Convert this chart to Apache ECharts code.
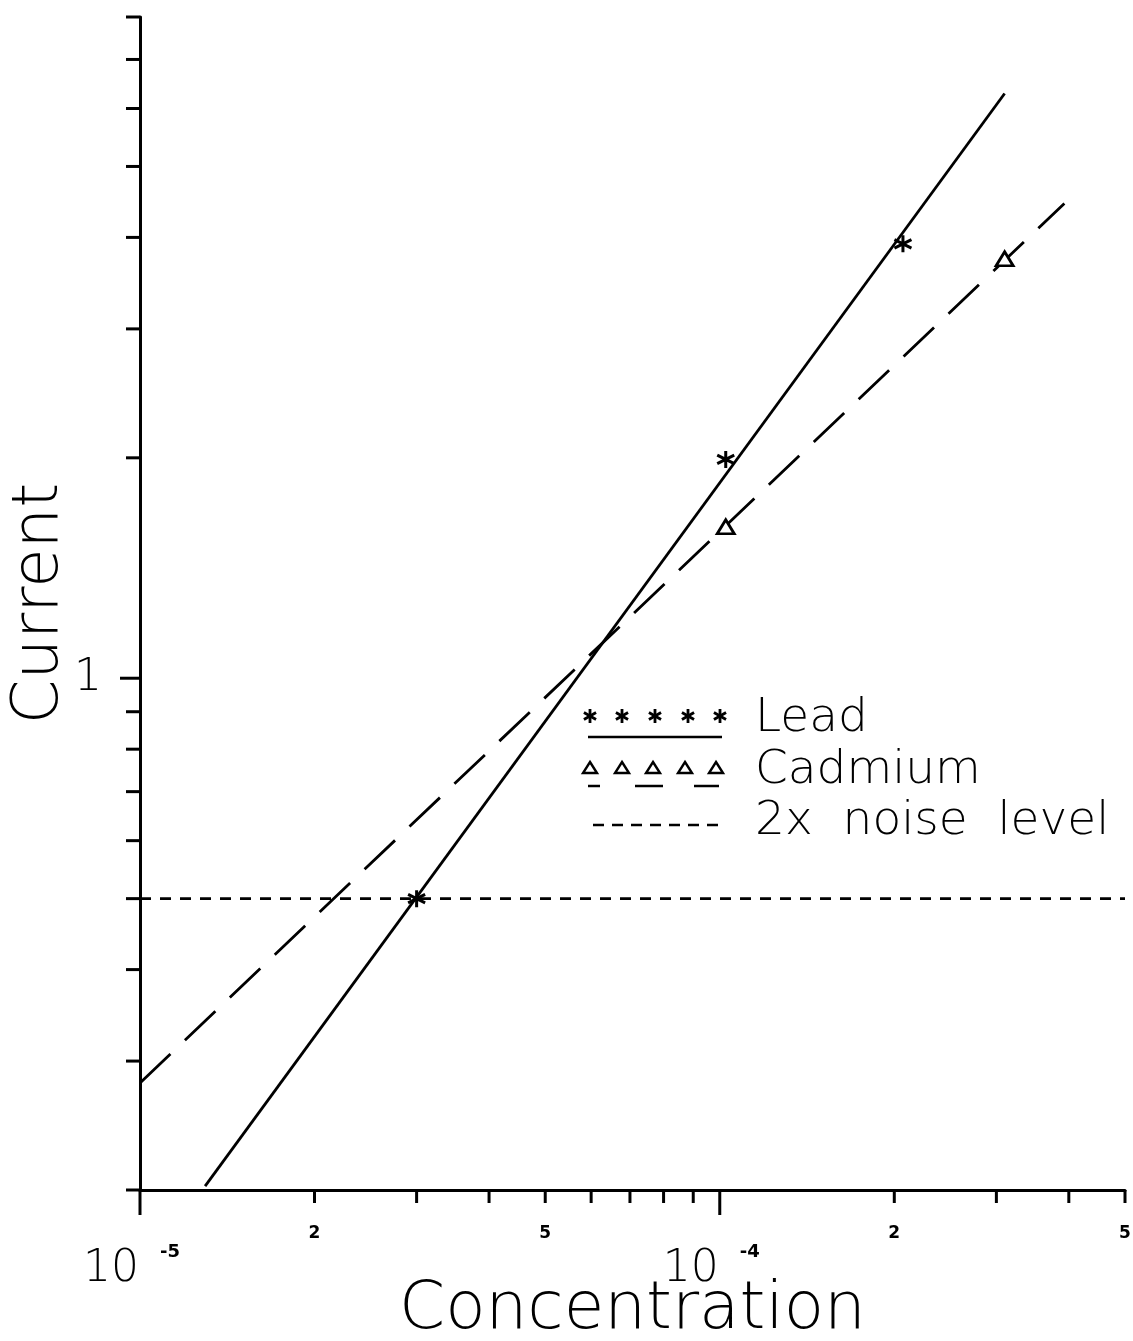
<!DOCTYPE html>
<html>
<head>
<meta charset="utf-8">
<script src="https://cdn.jsdelivr.net/npm/echarts@6/dist/echarts.min.js"></script>
<style>
html,body{margin:0;padding:0;background:#fff;}
#chart{width:1133px;height:1341px;}
</style>
</head>
<body>
<div id="chart"></div>
<script>
// ---- data ----
const X_MIN = 1e-5, X_MAX = 5e-4;
const Y_MIN = 0.2, Y_MAX = 8;
const leadPoints = [[3.0e-5, 0.50], [1.024e-4, 1.99], [2.07e-4, 3.92]];
const cadmiumPoints = [[1.024e-4, 1.61], [3.1e-4, 3.74]];
const leadFit = [[1.295e-5, 0.2025], [3.1e-4, 6.29]];
const cadmiumFit = [[1.0e-5, 0.28], [3.93e-4, 4.45]];
const noiseLevel = [[1e-5, 0.5], [5e-4, 0.5]];
const xTicks = [1e-5, 2e-5, 3e-5, 4e-5, 5e-5, 6e-5, 7e-5, 8e-5, 9e-5, 1e-4, 2e-4, 3e-4, 4e-4, 5e-4];
const xMinorLabels = [[2e-5, '2'], [5e-5, '5'], [2e-4, '2'], [5e-4, '5']];
const xDecadeLabels = [[1e-5, '-5'], [1e-4, '-4']];
const yTicks = [0.2, 0.3, 0.4, 0.5, 0.6, 0.7, 0.8, 0.9, 1, 2, 3, 4, 5, 6, 7, 8];
const yLabels = [[1, '1']];

const FONT = "'DejaVu Sans', sans-serif";
const STAR = 'path://M10,0L10,20M1.34,5L18.66,15M1.34,15L18.66,5';
const isDecade = v => Math.abs(Math.log10(v) - Math.round(Math.log10(v))) < 1e-9;

function legendStar(cx, cy, r) {
  const a = r * 0.866, b = r * 0.5;
  return [
    [cx, cy - r, cx, cy + r],
    [cx - a, cy - b, cx + a, cy + b],
    [cx - a, cy + b, cx + a, cy - b]
  ].map(s => ({ type: 'line', shape: { x1: s[0], y1: s[1], x2: s[2], y2: s[3] },
                style: { stroke: '#000', lineWidth: 2.8 } }));
}

const chart = echarts.init(document.getElementById('chart'));

const option = {
  backgroundColor: '#fff',
  animation: false,
  grid: { left: 140, top: 17, width: 985, height: 1173, containLabel: false, outerBoundsMode: 'none' },
  xAxis: {
    type: 'log', logBase: 10, min: X_MIN, max: X_MAX,
    name: 'Concentration', nameLocation: 'middle', nameGap: 88,
    nameTextStyle: { fontFamily: FONT, fontSize: 66, color: '#000', fontWeight: 300 },
    axisLine: { show: true, onZero: false, lineStyle: { color: '#000', width: 3 } },
    axisTick: { show: false }, axisLabel: { show: false }, splitLine: { show: false }
  },
  yAxis: {
    type: 'log', logBase: 10, min: Y_MIN, max: Y_MAX,
    name: 'Current', nameLocation: 'middle', nameGap: 68,
    nameTextStyle: { fontFamily: FONT, fontSize: 64, color: '#000', fontWeight: 300 },
    axisLine: { show: true, onZero: false, lineStyle: { color: '#000', width: 3 } },
    axisTick: { show: false }, axisLabel: { show: false }, splitLine: { show: false }
  },
  series: [
    {
      type: 'line', data: leadFit, symbol: 'none', z: 3,
      lineStyle: { color: '#000', width: 2.8, type: 'solid' }
    },
    {
      type: 'line', data: cadmiumFit, symbol: 'none', z: 3,
      lineStyle: { color: '#000', width: 2.8, type: [42, 20] }
    },
    {
      type: 'line', data: noiseLevel, symbol: 'none', z: 3,
      lineStyle: { color: '#000', width: 2.6, type: [11, 9] }
    },
    {
      type: 'scatter', data: leadPoints, symbol: STAR, symbolSize: 17, z: 4,
      itemStyle: { color: 'rgba(0,0,0,0)', borderColor: '#000', borderWidth: 3, opacity: 1 }
    },
    {
      type: 'scatter', data: cadmiumPoints, symbol: 'triangle', symbolSize: [17, 14], z: 4,
      itemStyle: { color: '#fff', borderColor: '#000', borderWidth: 2.8, opacity: 1 }
    },
    // x ticks
    {
      type: 'custom', clip: false, silent: true, z: 5,
      data: xTicks.map(v => [v, Y_MIN]),
      renderItem: (params, api) => {
        const v = api.value(0);
        const p = api.coord([v, Y_MIN]);
        const len = isDecade(v) ? 25 : 13;
        return { type: 'line', shape: { x1: p[0], y1: p[1], x2: p[0], y2: p[1] + len },
                 style: { stroke: '#000', lineWidth: 3 } };
      }
    },
    // y ticks
    {
      type: 'custom', clip: false, silent: true, z: 5,
      data: yTicks.map(v => [X_MIN, v]),
      renderItem: (params, api) => {
        const v = api.value(1);
        const p = api.coord([X_MIN, v]);
        const len = (v === 1) ? 20 : 14;
        return { type: 'line', shape: { x1: p[0] - len, y1: p[1], x2: p[0], y2: p[1] },
                 style: { stroke: '#000', lineWidth: 3 } };
      }
    },
    // x minor labels
    {
      type: 'custom', clip: false, silent: true,
      data: xMinorLabels.map(d => [d[0], Y_MIN]),
      renderItem: (params, api) => {
        const p = api.coord([api.value(0), Y_MIN]);
        return { type: 'text', x: p[0], y: p[1] + 44,
                 style: { text: xMinorLabels[params.dataIndex][1], fill: '#000',
                          font: 'bold 17px ' + FONT, align: 'center', verticalAlign: 'middle' } };
      }
    },
    // x decade labels 10^n
    {
      type: 'custom', clip: false, silent: true,
      data: xDecadeLabels.map(d => [d[0], Y_MIN]),
      renderItem: (params, api) => {
        const p = api.coord([api.value(0), Y_MIN]);
        return { type: 'group', children: [
          { type: 'text', x: p[0] - 1, y: p[1] + 80,
            style: { text: '10', fill: '#000', font: '300 44px ' + FONT, align: 'right', verticalAlign: 'middle' } },
          { type: 'text', x: p[0] + 20, y: p[1] + 62,
            style: { text: xDecadeLabels[params.dataIndex][1], fill: '#000', font: 'bold 18px ' + FONT, align: 'left', verticalAlign: 'middle' } }
        ] };
      }
    },
    // y labels
    {
      type: 'custom', clip: false, silent: true,
      data: yLabels.map(d => [X_MIN, d[0]]),
      renderItem: (params, api) => {
        const p = api.coord([X_MIN, api.value(1)]);
        return { type: 'text', x: p[0] - 38, y: p[1],
                 style: { text: yLabels[params.dataIndex][1], fill: '#000', font: '300 44px ' + FONT, align: 'right', verticalAlign: 'middle' } };
      }
    }
  ],
  graphic: [
    // Lead legend
    ...[590, 622, 655, 688, 720].flatMap(x => legendStar(x, 716, 7)),
    { type: 'line', shape: { x1: 588, y1: 737, x2: 722, y2: 737 }, style: { stroke: '#000', lineWidth: 2.5 } },
    { type: 'text', x: 755, y: 719, style: { text: 'Lead', fill: '#000', font: '300 47px ' + FONT, align: 'left', verticalAlign: 'middle' } },
    // Cadmium legend
    ...[590, 622, 653, 685, 716].map(x => ({
      type: 'polygon', shape: { points: [[x, 762], [x + 7, 773], [x - 7, 773]] },
      style: { stroke: '#000', lineWidth: 2.4, fill: '#fff' }
    })),
    ...[[588, 600], [635, 663], [694, 719]].map(s => ({
      type: 'line', shape: { x1: s[0], y1: 786, x2: s[1], y2: 786 }, style: { stroke: '#000', lineWidth: 2.5 }
    })),
    { type: 'text', x: 755, y: 771, style: { text: 'Cadmium', fill: '#000', font: '300 47px ' + FONT, align: 'left', verticalAlign: 'middle' } },
    // noise legend
    { type: 'line', shape: { x1: 593, y1: 825, x2: 720, y2: 825 }, style: { stroke: '#000', lineWidth: 2.5, lineDash: [11, 8] } },
    { type: 'text', x: 755, y: 822, style: { text: '2x  noise  level', fill: '#000', font: '300 47px ' + FONT, align: 'left', verticalAlign: 'middle' } }
  ]
};

chart.setOption(option);
</script>
</body>
</html>
